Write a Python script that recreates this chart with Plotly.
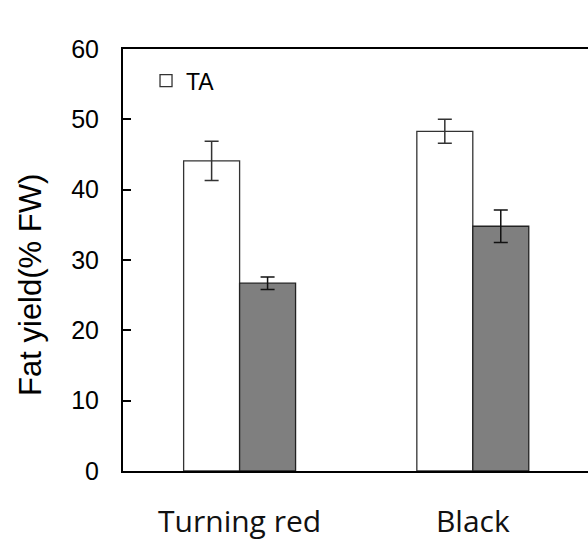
import plotly.graph_objects as go

categories = ["Turning red", "Black"]
ta_values = [44.1, 48.3]
ta_errors = [2.8, 1.7]
other_values = [26.7, 34.8]
other_errors = [0.9, 2.3]
y_ticks = [0, 10, 20, 30, 40, 50, 60]
y_title = "Fat yield(% FW)"

fig = go.Figure()
fig.add_trace(go.Bar(
    x=categories, y=ta_values, name="TA",
    marker=dict(color="white", line=dict(color="#333333", width=1.3)),
    error_y=dict(type="data", array=ta_errors, color="#333333", thickness=1.5, width=7),
    showlegend=True,
))
fig.add_trace(go.Bar(
    x=categories, y=other_values, name="",
    marker=dict(color="#7f7f7f", line=dict(color="#222222", width=1.3)),
    error_y=dict(type="data", array=other_errors, color="#111111", thickness=1.5, width=7),
    showlegend=False,
))

fig.add_annotation(
    text=y_title, xref="paper", yref="paper", x=-0.198, y=0.4408,
    xanchor="center", yanchor="middle", textangle=-90, showarrow=False,
    font=dict(size=31, family="Liberation Sans, Arial, sans-serif", color="black"),
)

fig.update_layout(
    width=588, height=542,
    margin=dict(l=123, r=0, t=49, b=71, autoexpand=False),
    paper_bgcolor="white", plot_bgcolor="white",
    barmode="group", bargap=0.52, bargroupgap=0,
    font=dict(family="Liberation Sans, Arial, sans-serif", color="black"),
    showlegend=True,
    legend=dict(x=0.0495, y=0.976, xanchor="left", yanchor="top",
                font=dict(size=23, family="Liberation Sans, Arial, sans-serif"),
                bgcolor="rgba(0,0,0,0)", borderwidth=0),
    xaxis=dict(
        range=[-0.5, 1.494], showline=True, mirror=True, linecolor="black", linewidth=1.5,
        ticks="", showgrid=False, zeroline=False, automargin=False,
        tickfont=dict(size=30, family="Open Sans, Lato, sans-serif", color="#111111"),
        ticklabelstandoff=23,
    ),
    yaxis=dict(
        range=[0, 60], tickvals=y_ticks, showline=True, linecolor="black", linewidth=2,
        ticks="inside", ticklen=8, tickwidth=2, tickcolor="black",
        showgrid=False, zeroline=False, automargin=False,
        tickfont=dict(size=25), ticklabelstandoff=17,
    ),
)

fig.write_html("out.html")
